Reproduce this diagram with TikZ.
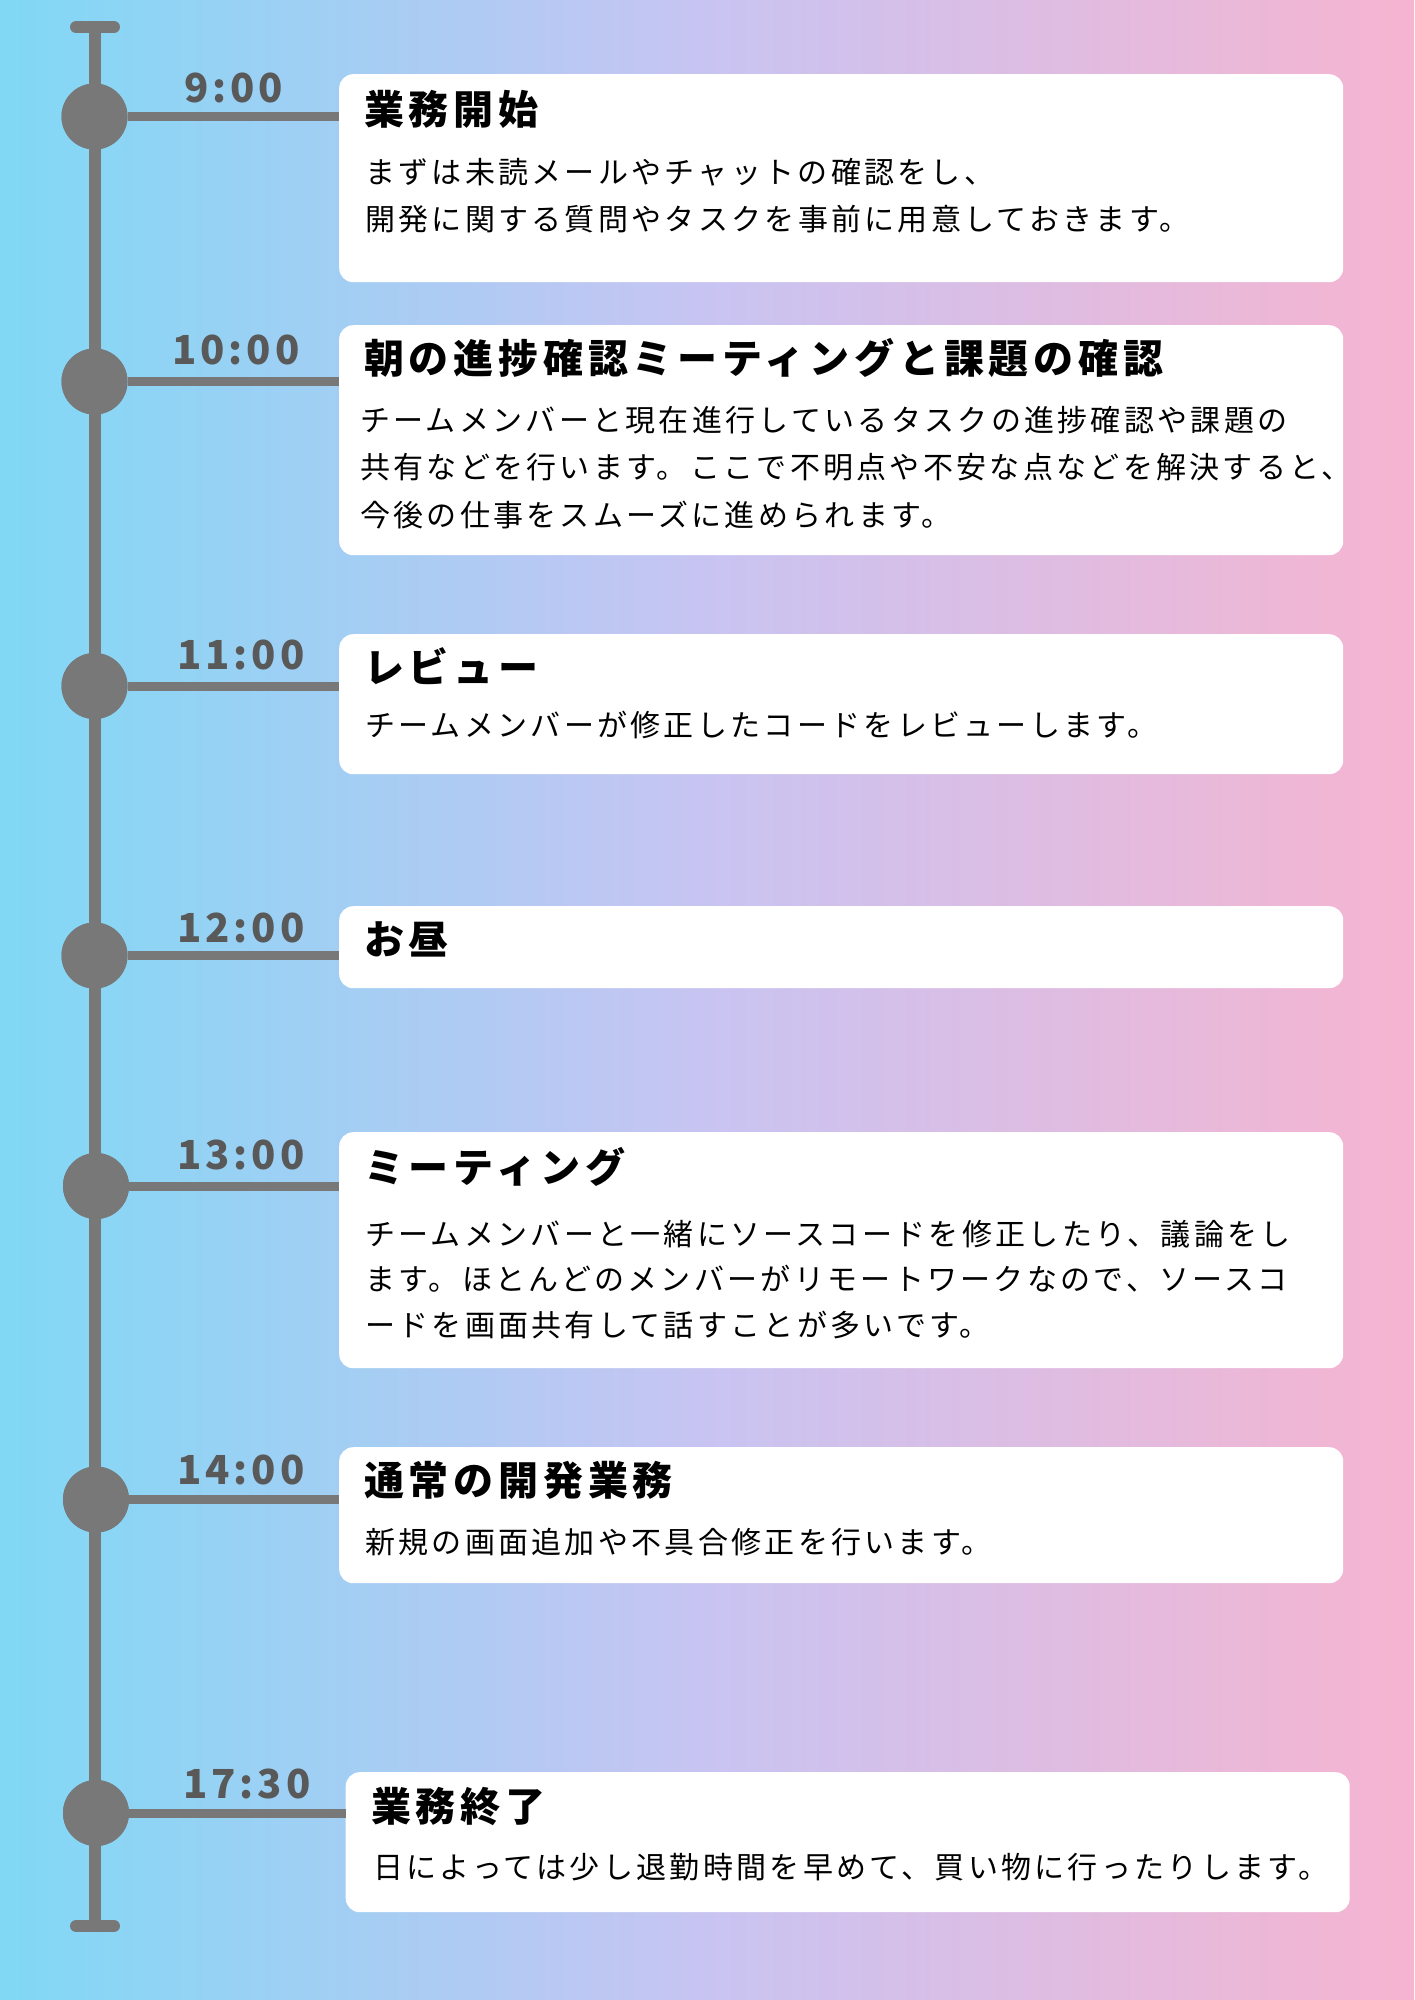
\documentclass[tikz,border=0pt]{standalone}
\usepackage{fontspec}
\newfontfamily\jpbody[LetterSpace=11]{Noto Sans CJK JP}
\newfontfamily\jptitle[LetterSpace=12]{Noto Sans CJK JP}
\newfontfamily\jptime[LetterSpace=10]{Noto Sans CJK JP}

\definecolor{bgleft}{HTML}{80D8F5}
\definecolor{bgmid}{HTML}{C8C4F2}
\definecolor{bgright}{HTML}{F6B4D0}
\definecolor{linegray}{HTML}{787878}
\definecolor{timegray}{HTML}{595959}
\pgfdeclarehorizontalshading{bgshade}{100bp}{color(0bp)=(bgleft); color(25bp)=(bgleft); color(50bp)=(bgmid); color(75bp)=(bgright); color(100bp)=(bgright)}

\tikzset{
  spine/.style={draw=linegray, line width=12pt},
  spinecap/.style={draw=linegray, line width=12pt, line cap=round},
  conn/.style={draw=linegray, line width=9pt},
  dot/.style={circle, fill=linegray, minimum size=66pt, inner sep=0pt},
  card/.style={fill=white, rounded corners=14pt, anchor=north west, minimum width=1004pt, inner sep=0pt},
  timelabel/.style={anchor=base west, inner sep=0pt, text=timegray, font=\jptime\bfseries\fontsize{40}{40}\selectfont},
  cardtitle/.style={anchor=base west, inner sep=0pt, font=\jptitle\bfseries\fontsize{40}{40}\selectfont},
  cardbody/.style={anchor=base west, inner sep=0pt, align=left, font=\jpbody\fontsize{30}{47.5}\selectfont},
}

\begin{document}
\begin{tikzpicture}[x=1pt, y=-1pt]
    % background
    \useasboundingbox (0,0) rectangle (1414,2000);
    \shade[shading=bgshade] (0,0) rectangle (1414,2000);

    % the time line with its two end caps
    \coordinate (top) at (95,27);
    \coordinate (bottom) at (95,1926);
    \draw[spine] (top) -- (bottom);
    \draw[spinecap] ([xshift=-19pt]top) -- ([xshift=19pt]top);
    \draw[spinecap] ([xshift=-19pt]bottom) -- ([xshift=19pt]bottom);

    % the dots on the line
    \node[dot] (dot1) at (94.5,116.5) {};
    \node[dot] (dot2) at (94.5,381.5) {};
    \node[dot] (dot3) at (94.5,686) {};
    \node[dot] (dot4) at (94.5,955.5) {};
    \node[dot] (dot5) at (96,1186) {};
    \node[dot] (dot6) at (96,1499.5) {};
    \node[dot] (dot7) at (96,1813) {};

    % the cards (drawn as empty nodes, the texts come later)
    \node[card, minimum height=208pt] (box1) at (339,74) {};
    \node[card, minimum height=230pt] (box2) at (339,325) {};
    \node[card, minimum height=140pt] (box3) at (339,634) {};
    \node[card, minimum height=82pt]  (box4) at (339,906) {};
    \node[card, minimum height=236pt] (box5) at (339,1132) {};
    \node[card, minimum height=136pt] (box6) at (339,1447) {};
    \node[card, minimum height=140pt] (box7) at (345.5,1772) {};

    % connect the dots to the cards
    \draw[conn] (dot1) -- (dot1 -| box1.west);
    \draw[conn] (dot2) -- (dot2 -| box2.west);
    \draw[conn] (dot3) -- (dot3 -| box3.west);
    \draw[conn] (dot4) -- (dot4 -| box4.west);
    \draw[conn] (dot5) -- (dot5 -| box5.west);
    \draw[conn] (dot6) -- (dot6 -| box6.west);
    \draw[conn] (dot7) -- (dot7 -| box7.west);
    \node[dot] at (dot1) {};
    \node[dot] at (dot2) {};
    \node[dot] at (dot3) {};
    \node[dot] at (dot4) {};
    \node[dot] at (dot5) {};
    \node[dot] at (dot6) {};
    \node[dot] at (dot7) {};

    % the times
    \node[timelabel] (time1) at (184,102) {9:00};
    \node[timelabel] (time2) at (172,364) {10:00};
    \node[timelabel] (time3) at (177,669) {11:00};
    \node[timelabel] (time4) at (177,942) {12:00};
    \node[timelabel] (time5) at (177,1169) {13:00};
    \node[timelabel] (time6) at (177,1484) {14:00};
    \node[timelabel] (time7) at (183,1798) {17:30};

    % the titles
    \node[cardtitle] (title1) at (364,124) {業務開始};
    \node[cardtitle] (title2) at (364,373) {朝の進捗確認ミーティングと課題の確認};
    \node[cardtitle] (title3) at (364,682) {レビュー};
    \node[cardtitle] (title4) at (364,954) {お昼};
    \node[cardtitle] (title5) at (364,1182) {ミーティング};
    \node[cardtitle] (title6) at (364,1495) {通常の開発業務};
    \node[cardtitle] (title7) at (371,1821) {業務終了};

    % the texts (multi-line ones sit on their last line)
    \node[cardbody] (text1) at (365,230.5) {まずは未読メールやチャットの確認をし、\\開発に関する質問やタスクを事前に用意しておきます。};
    \node[cardbody] (text2) at (360,526) {チームメンバーと現在進行しているタスクの進捗確認や課題の\\共有などを行います。ここで不明点や不安な点などを解決すると、\\今後の仕事をスムーズに進められます。};
    \node[cardbody] (text3) at (365,736) {チームメンバーが修正したコードをレビューします。};
    \node[cardbody, font=\jpbody\fontsize{30}{45.5}\selectfont] (text5) at (365,1336) {チームメンバーと一緒にソースコードを修正したり、議論をし\\ます。ほとんどのメンバーがリモートワークなので、ソースコ\\ードを画面共有して話すことが多いです。};
    \node[cardbody] (text6) at (365,1553) {新規の画面追加や不具合修正を行います。};
    \node[cardbody] (text7) at (373,1878) {日によっては少し退勤時間を早めて、買い物に行ったりします。};
\end{tikzpicture}
\end{document}
